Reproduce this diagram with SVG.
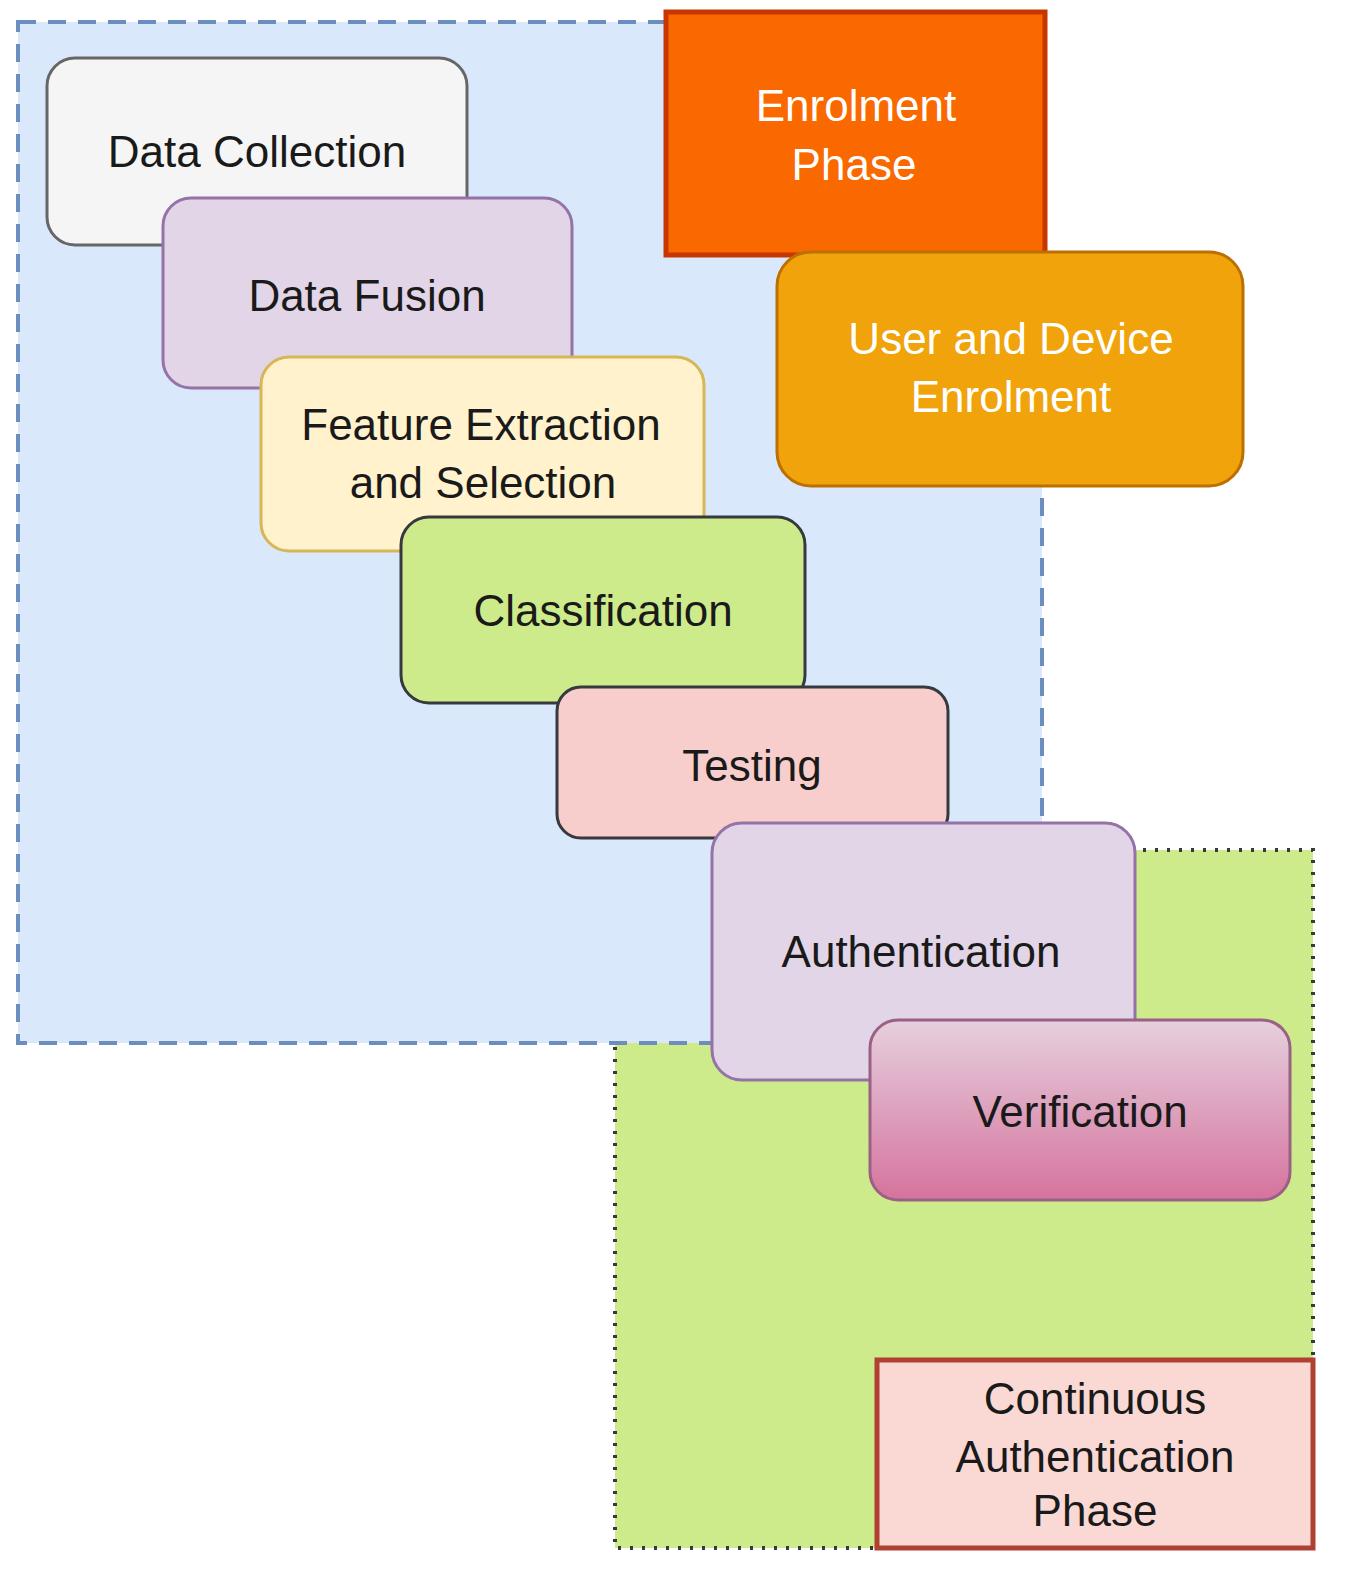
<svg xmlns="http://www.w3.org/2000/svg" width="1348" height="1580" viewBox="0 0 1348 1580">
<style>
text{font-family:"Liberation Sans",Arial,sans-serif;font-size:44px;text-anchor:middle;fill:#1a1a1a}
.w{fill:#ffffff}
.n{stroke-width:3}
</style>
<defs>
<linearGradient id="gv" x1="0" y1="0" x2="0" y2="1"><stop offset="0" stop-color="#e6d0de"/><stop offset="1" stop-color="#d5739d"/></linearGradient>
</defs>
<rect width="1348" height="1580" fill="#fff"/>
<g id="continuous-region"><rect x="615" y="850" width="698" height="698" fill="#cdeb8b" stroke="#36393d" stroke-width="4" stroke-dasharray="3 9"/></g>
<g id="enrolment-region"><rect x="18" y="22" width="1024" height="1021" fill="#dae8fc" stroke="#6c8ebf" stroke-width="4" stroke-dasharray="18 12"/></g>
<g id="connectors"></g>
<g id="data-collection"><rect class="n" x="47" y="58" width="420" height="187" rx="28" fill="#f5f5f5" stroke="#666"/><text x="257" y="167" fill="#333">Data Collection</text></g>
<g id="data-fusion"><rect class="n" x="163" y="198" width="409" height="190" rx="28" fill="#e1d5e7" stroke="#9673a6"/><text x="367" y="311">Data Fusion</text></g>
<g id="feature"><rect class="n" x="261" y="357" width="443" height="194" rx="28" fill="#fff2cc" stroke="#d6b656"/><text x="481" y="440">Feature Extraction</text><text x="483" y="498">and Selection</text></g>
<g id="classification"><rect class="n" x="401" y="517" width="404" height="186" rx="28" fill="#cdeb8b" stroke="#36393d"/><text x="603" y="626">Classification</text></g>
<g id="testing"><rect class="n" x="557" y="687" width="391" height="151" rx="24" fill="#f8cecc" stroke="#36393d"/><text x="752" y="781">Testing</text></g>
<g id="authentication"><rect class="n" x="712" y="823" width="423" height="257" rx="30" fill="#e1d5e7" stroke="#9673a6"/><text x="921" y="967">Authentication</text></g>
<g id="verification"><rect class="n" x="870" y="1020" width="420" height="180" rx="28" fill="url(#gv)" stroke="#996185"/><text x="1080" y="1127">Verification</text></g>
<g id="enrolment-phase"><rect x="666" y="12" width="379" height="243" fill="#fa6800" stroke="#c73500" stroke-width="5"/><text class="w" x="856" y="121">Enrolment</text><text class="w" x="854" y="180">Phase</text></g>
<g id="user-device"><rect class="n" x="777" y="252" width="466" height="234" rx="34" fill="#f0a30a" stroke="#bd7000"/><text class="w" x="1011" y="354">User and Device</text><text class="w" x="1011" y="412">Enrolment</text></g>
<g id="continuous-phase"><rect x="877" y="1360" width="436" height="188" fill="#fad9d5" stroke="#ae4132" stroke-width="5"/><text x="1095" y="1414">Continuous</text><text x="1095" y="1472">Authentication</text><text x="1095" y="1526">Phase</text></g>
</svg>
